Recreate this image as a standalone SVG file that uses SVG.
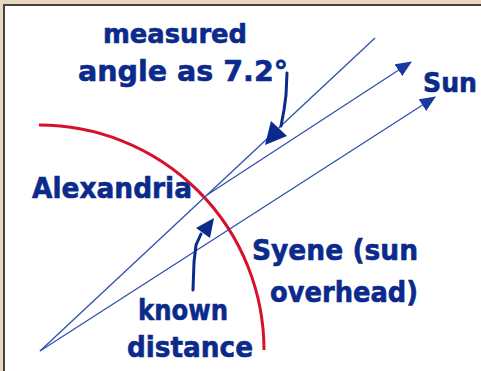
<svg xmlns="http://www.w3.org/2000/svg" width="481" height="371" viewBox="0 0 481 371">
<style>
.lbl{font-family:"DejaVu Sans","Liberation Sans",sans-serif;font-weight:bold;fill:#0b2a8c;stroke:#0b2a8c;stroke-width:0.6}
.ray{stroke:#2f4fb0;stroke-width:1.3;fill:none}
.ptr{stroke:#0b2a8c;stroke-width:3;fill:none;stroke-linecap:round;stroke-linejoin:round}
.head{fill:#0b2a8c}
</style>
<defs>
<marker id="ah" viewBox="0 0 16 14" refX="15" refY="7" markerWidth="16" markerHeight="14" markerUnits="userSpaceOnUse" orient="auto">
<path d="M0 0 L16 7 L0 14 Z" fill="#1a3aa0"/>
</marker>
</defs>
<rect x="0" y="0" width="481" height="371" fill="#ffffff"/>
<g id="frame">
<rect x="0" y="0" width="481" height="4" fill="#e6d8c2"/>
<rect x="0" y="0" width="3" height="371" fill="#e6d8c2"/>
<rect x="3" y="4" width="478" height="2" fill="#4d403c"/>
<rect x="3" y="4" width="2" height="367" fill="#4d403c"/>
</g>
<g id="earth">
<path d="M39 125 A 225 225 0 0 1 264 350" fill="none" stroke="#d8102a" stroke-width="3"/>
</g>
<g id="connectors">
<path class="ray" d="M40 351 L375 38"/>
<path class="ray" d="M207 195 L411 62" marker-end="url(#ah)"/>
<path class="ray" d="M40 351 L435 97" marker-end="url(#ah)"/>
<path class="ptr" d="M287 73 L286 95 L284 110 L281 126"/>
<polygon class="head" points="265,145 287,136 271,121"/>
<path class="ptr" d="M193 290 L194 262 L196 245 L201 234"/>
<polygon class="head" points="214,218 210,238 196,228"/>
</g>
<g id="label-measured">
<text class="lbl" x="103" y="43" font-size="26" textLength="144" lengthAdjust="spacingAndGlyphs">measured</text>
<text class="lbl" x="78" y="81" font-size="29" textLength="210" lengthAdjust="spacingAndGlyphs">angle as 7.2°</text>
</g>
<g id="label-sun">
<text class="lbl" x="423" y="92" font-size="27" textLength="54" lengthAdjust="spacingAndGlyphs">Sun</text>
</g>
<g id="label-alexandria">
<text class="lbl" x="32" y="198" font-size="28" textLength="160" lengthAdjust="spacingAndGlyphs">Alexandria</text>
</g>
<g id="label-syene">
<text class="lbl" x="252" y="260" font-size="28" textLength="166" lengthAdjust="spacingAndGlyphs">Syene (sun</text>
<text class="lbl" x="270" y="302" font-size="28" textLength="148" lengthAdjust="spacingAndGlyphs">overhead)</text>
</g>
<g id="label-distance">
<text class="lbl" x="138" y="320" font-size="28" textLength="90" lengthAdjust="spacingAndGlyphs">known</text>
<text class="lbl" x="127" y="357" font-size="28" textLength="126" lengthAdjust="spacingAndGlyphs">distance</text>
</g>
</svg>
